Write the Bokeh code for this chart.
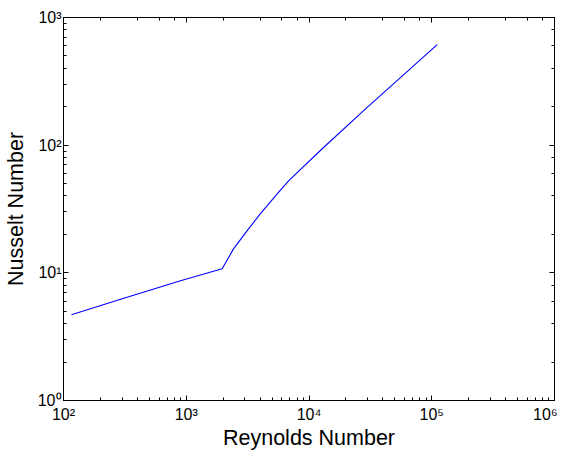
from bokeh.plotting import figure
from bokeh.models import LogAxis, Range1d
from bokeh.embed import file_html
from bokeh.resources import INLINE

# Data (Reynolds number vs Nusselt number)
reynolds = [116, 301, 870, 1349, 1963, 2426, 3137, 4025, 5507, 6845,
            13200, 29800, 110800]
nusselt = [4.69, 6.26, 8.60, 9.70, 10.75, 15.4, 21.4, 29.1, 41.6, 52.8,
           96.3, 198.0, 613.0]

x_tick_labels = {100: "10²", 1000: "10³", 10000: "10⁴", 100000: "10⁵", 1000000: "10⁶"}
y_tick_labels = {1: "10⁰", 10: "10¹", 100: "10²", 1000: "10³"}

FONT = "Liberation Sans"

p = figure(x_axis_type="log", y_axis_type="log",
           x_range=Range1d(1e2, 1e6), y_range=Range1d(1, 1e3),
           frame_width=491, frame_height=383,
           min_border_left=63, min_border_right=3, min_border_top=17, min_border_bottom=50,
           output_backend="svg", toolbar_location=None,
           background_fill_color="white", border_fill_color="white")

p.line(reynolds, nusselt, line_color="#0000ff", line_width=1.1)

p.xgrid.visible = False
p.ygrid.visible = False
p.outline_line_color = "black"

def style(ax, labels=True):
    ax.axis_line_color = "black"
    ax.major_tick_line_color = "black"
    ax.minor_tick_line_color = "black"
    ax.major_tick_in = 5
    ax.major_tick_out = 0
    ax.minor_tick_in = 3
    ax.minor_tick_out = 0
    if labels:
        ax.major_label_text_font = FONT
        ax.major_label_text_font_size = "16px"
        ax.major_label_text_color = "black"
        ax.axis_label_text_font = FONT
        ax.axis_label_text_font_size = "21.5px"
        ax.axis_label_text_font_style = "normal"
        ax.axis_label_text_color = "black"
    else:
        ax.major_label_text_font_size = "1px"
        ax.major_label_text_alpha = 0
        ax.major_label_standoff = 0

xa = p.xaxis[0]
ya = p.yaxis[0]
style(xa)
style(ya)
xa.axis_label = "Reynolds Number"
ya.axis_label = "Nusselt Number"
xa.major_label_overrides = x_tick_labels
ya.major_label_overrides = y_tick_labels
xa.major_label_standoff = 5
ya.major_label_standoff = 2
xa.axis_label_standoff = 0
ya.axis_label_standoff = 7

top = LogAxis()
right = LogAxis()
style(top, labels=False)
style(right, labels=False)
p.add_layout(top, "above")
p.add_layout(right, "right")

open("out.html", "w").write(file_html(p, INLINE))
